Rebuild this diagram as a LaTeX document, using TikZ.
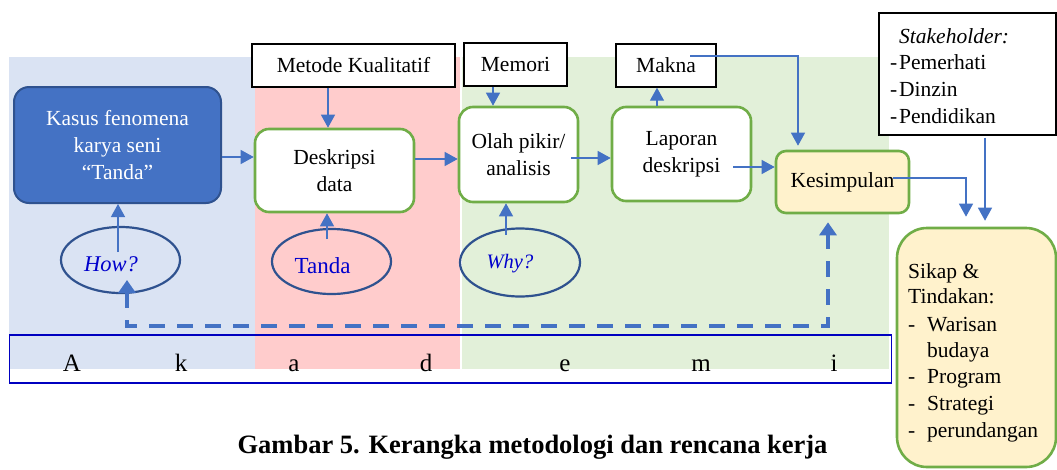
\documentclass[tikz,border=0pt]{standalone}
\usepackage{fontspec}
\setmainfont{Liberation Serif}
\usetikzlibrary{arrows.meta,shapes.geometric}

\definecolor{bgblue}{HTML}{DAE3F3}
\definecolor{bgred}{HTML}{FFCCCC}
\definecolor{bggreen}{HTML}{E2F0D9}
\definecolor{accent}{HTML}{4472C4}
\definecolor{accentdark}{HTML}{2F528F}
\definecolor{leaf}{HTML}{70AD47}
\definecolor{cream}{HTML}{FFF2CC}
\definecolor{inkblue}{RGB}{0,0,204}
\definecolor{barblue}{RGB}{0,0,192}

\begin{document}
\begin{tikzpicture}[x=1pt,y=-1pt,
  body/.style={font=\fontsize{21.5}{27}\selectfont, inner sep=0pt, align=center},
  bluebox/.style={body, rounded corners=15pt, fill=accent, draw=accentdark,
    line width=2pt, text=white},
  labelbox/.style={body, draw=black, fill=white, line width=1.4pt,
    minimum height=43pt},
  stepbox/.style={body, rounded corners=14pt, fill=white, draw=leaf,
    line width=2.6pt},
  oval/.style={ellipse, draw=accentdark, line width=2.2pt, inner sep=0pt},
  ovaltext/.style={inner sep=0pt, text=inkblue, anchor=base},
  listline/.style={font=\fontsize{21.5}{27}\selectfont, inner sep=0pt,
    anchor=base west},
  letter/.style={font=\fontsize{25}{30}\selectfont, inner sep=0pt, anchor=base},
  arr/.style={draw=accent, line width=1.3pt,
    -{Triangle[length=13pt,width=14pt]}},
  dasharr/.style={draw=accent, line width=4pt, dash pattern=on 16pt off 12pt,
    {Triangle[length=13pt,width=17pt]}-{Triangle[length=13pt,width=17pt]}}
]
\useasboundingbox (0,0) rectangle (1057,469);

% coloured bands
\fill[bgblue]  (9,57)   rectangle (255,369);
\fill[bgred]   (255,57) rectangle (460,369);
\fill[bggreen] (462,57) rectangle (889,369);

% spaced word along the bottom band
\node[draw=barblue, line width=1.6pt, minimum width=882pt, minimum height=48pt,
  inner sep=0pt] (bar) at (450.5,359) {};
\node[letter] (lA) at (72,371)  {A};
\node[letter] (lk) at (181,371) {k};
\node[letter] (la) at (294,371) {a};
\node[letter] (ld) at (426,371) {d};
\node[letter] (le) at (565,371) {e};
\node[letter] (lm) at (701,371) {m};
\node[letter] (li) at (834,371) {i};

% question ellipses
\node[oval, minimum width=119pt, minimum height=66pt] (how)   at (120.5,260)   {};
\node[oval, minimum width=119pt, minimum height=65pt] (tanda) at (331.5,261.5) {};
\node[oval, minimum width=120pt, minimum height=68pt] (why)   at (520,262.5)   {};
\node[ovaltext, font=\fontsize{22.5}{27}\selectfont\itshape] (howT)   at (111,271)   {How?};
\node[ovaltext, font=\fontsize{23}{27}\selectfont]           (tandaT) at (322.5,273) {Tanda};
\node[ovaltext, font=\fontsize{20.5}{25}\selectfont\itshape] (whyT)   at (510,268)   {Why?};

% process boxes
\node[bluebox, minimum width=207pt, minimum height=116pt] (kasus) at (117.5,145)
  {Kasus fenomena\\karya seni\\“Tanda”};
\node[labelbox, minimum width=203pt] (metode) at (353.5,65.5) {Metode Kualitatif};
\node[stepbox, minimum width=159pt, minimum height=83pt] (desk) at (334.5,170.5)
  {Deskripsi\\data};
\node[labelbox, minimum width=103pt] (memori) at (515.5,64.5) {Memori};
\node[stepbox, minimum width=119pt, minimum height=95pt] (olah) at (518.5,154.5)
  {Olah pikir/\\analisis};
\node[stepbox, minimum width=139pt, minimum height=94pt] (lapor) at (681.5,154)
  {Laporan\\deskripsi};
\node[labelbox, minimum width=100pt] (makna) at (666,65.5) {Makna};
\node[stepbox, fill=cream, rounded corners=10pt, minimum width=133pt,
  minimum height=62pt] (kes) at (842.5,182) {Kesimpulan};

% stakeholder list
\node[labelbox, minimum width=177pt, minimum height=122pt] (stake) at (967.5,74) {};
\node[listline] (stk0) at (899,43) {\itshape Stakeholder:};
\node[listline] (stk1) at (890,69) {\makebox[9pt][l]{-}Pemerhati};
\node[listline] (stk2) at (890,96) {\makebox[9pt][l]{-}Dinzin};
\node[listline] (stk3) at (890,123) {\makebox[9pt][l]{-}Pendidikan};

% attitude and action box
\node[stepbox, fill=cream, rounded corners=30pt, minimum width=159pt,
  minimum height=239pt] (sikap) at (976.5,347.5) {};
\node[listline] (sk1) at (908,278) {Sikap \&};
\node[listline] (sk2) at (908,303) {Tindakan:};
\node[listline] (sk3) at (908,331) {\makebox[19pt][l]{-}Warisan};
\node[listline] (sk4) at (927,357) {budaya};
\node[listline] (sk5) at (908,383) {\makebox[19pt][l]{-}Program};
\node[listline] (sk6) at (908,410) {\makebox[19pt][l]{-}Strategi};
\node[listline] (sk7) at (908,437) {\makebox[19pt][l]{-}perundangan};

% horizontal flow
\coordinate (kd) at ([shift={(0,12)}]kasus.east);
\draw[arr] (kd) -- (desk.west |- kd);
\coordinate (do) at ([shift={(0,-11.5)}]desk.east);
\draw[arr] (do) -- (olah.west |- do);
\coordinate (ol) at ([shift={(-8,3.5)}]olah.east);
\draw[arr] (ol) -- (lapor.west |- ol);
\coordinate (lk) at ([shift={(-19,13)}]lapor.east);
\draw[arr] (lk) -- (kes.west |- lk);

% inputs from above
\coordinate (md) at ([shift={(-25.5,0)}]metode.south);
\draw[arr] (md) -- (md |- desk.north);
\coordinate (mo) at ([shift={(-22.5,0)}]memori.south);
\draw[arr] (mo) -- (mo |- olah.north);
\coordinate (lm) at ([shift={(-24.5,0)}]lapor.north);
\draw[arr] (lm) -- (lm |- makna.south);
\coordinate (mk) at ([shift={(24,-9.5)}]makna.center);
\coordinate (mkend) at ([shift={(-44.5,-4)}]kes.north);
\draw[arr] (mk) -| (mkend);

% into the final box
\coordinate (ks) at ([shift={(-17,-4)}]kes.east);
\coordinate (ksend) at ([shift={(-10.5,-10)}]sikap.north);
\draw[arr] (ks) -| (ksend);
\coordinate (ss) at ([shift={(17.5,2)}]stake.south);
\coordinate (ssend) at ([shift={(8.5,-6)}]sikap.north);
\draw[arr] (ss) -- (ss |- ssend);

% questions feeding the boxes
\coordinate (hk) at ([shift={(-2.5,-8)}]how.center);
\draw[arr] (hk) -- (hk |- kasus.south);
\coordinate (td) at ([shift={(-4.5,-22.5)}]tanda.center);
\draw[arr] (td) -- (td |- desk.south);
\coordinate (wo) at ([shift={(-14,-27.5)}]why.center);
\draw[arr] (wo) -- (wo |- olah.south);

% feedback loop
\coordinate (tipL) at ([shift={(6.5,20)}]how.center);
\coordinate (dashL) at ([shift={(6.5,66)}]how.center);
\coordinate (tipR) at ([shift={(-14.5,8)}]kes.south);
\draw[dasharr] (tipL) -- (dashL) -| (tipR);

% caption
\node[font=\bfseries\fontsize{26.5}{30}\selectfont, inner sep=0pt, anchor=base]
  (caption) at (532.5,453) {Gambar 5. Kerangka metodologi dan rencana kerja};
\end{tikzpicture}
\end{document}
